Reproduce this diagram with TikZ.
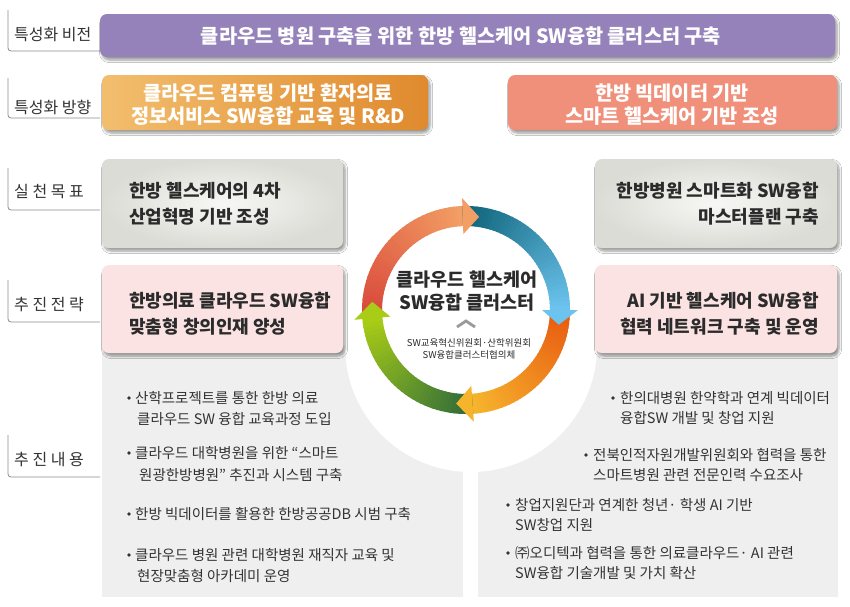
\documentclass[tikz,border=0pt]{standalone}
\usepackage{fontspec}
\setmainfont{Noto Sans CJK KR}
\usetikzlibrary{calc,shadows.blur}
\definecolor{txtdark}{HTML}{2B2B2B}
\definecolor{lbltxt}{HTML}{333333}
\definecolor{brkgray}{HTML}{8C8C8C}
\definecolor{purpleb}{HTML}{9582BA}
\definecolor{orangeL}{HTML}{F2BE6E}
\definecolor{orangeR}{HTML}{E08A2E}
\definecolor{salmon}{HTML}{F0907A}
\definecolor{pinkb}{HTML}{FBE3E3}
\definecolor{grayin}{HTML}{F7F7F5}
\definecolor{grayout}{HTML}{DCDCD6}
\definecolor{panel}{HTML}{EFEFEF}
\definecolor{aS}{HTML}{D8473A}
\definecolor{aE}{HTML}{F39E64}
\definecolor{bS}{HTML}{0E6378}
\definecolor{bE}{HTML}{6CC3EE}
\definecolor{cS}{HTML}{E85A10}
\definecolor{cE}{HTML}{F6B42C}
\definecolor{dS}{HTML}{2F6B3A}
\definecolor{dE}{HTML}{A9CD16}
\definecolor{chev}{HTML}{9A9A9A}
\pgfdeclareradialshading{innershadow}{\pgfpoint{0bp}{0bp}}{color(0bp)=(white); color(37bp)=(white); color(45bp)=(black!14); color(50bp)=(black!42)}
\newcommand\ringseg[4]{%
  \foreach \k in {0,...,35}{%
    \pgfmathsetmacro\aa{#1+(#2-#1)*\k/36}%
    \pgfmathsetmacro\bb{#1+(#2-#1)*(\k+1.4)/36}%
    \pgfmathtruncatemacro\pc{100*\k/35}%
    \fill[#4!\pc!#3] ($(rc)+(\aa:104)$) arc[start angle=\aa,end angle=\bb,radius=104] -- ($(rc)+(\bb:84)$) arc[start angle=\bb,end angle=\aa,radius=84] -- cycle;
  }}
\newcommand\ringhead[3]{%
  \fill[#3] ($(rc)+(#1:76)$) -- ($(rc)+(#1:112)$) -- ($(rc)+(#2:94)$) -- cycle;}
\begin{document}
\begin{tikzpicture}[x=1pt,y=-1pt,
  lbl/.style={anchor=west, inner sep=0pt, font=\fontsize{16}{19}\selectfont, text=lbltxt},
  brk/.style={draw=brkgray, line width=0.8pt, rounded corners=3pt},
  boxbase/.style={rounded corners=7pt, inner sep=0pt, blur shadow={shadow xshift=2pt, shadow yshift=-3pt, shadow blur steps=6, shadow blur radius=2.5pt}},
  headtxt/.style={font=\bfseries\fontsize{19.7}{23}\selectfont, text=white, align=center},
  goaltxt/.style={font=\bfseries\fontsize{18}{26}\selectfont, text=txtdark},
  bul/.style={anchor=west, inner sep=0pt, font=\fontsize{14.5}{20}\selectfont, text=lbltxt},
  dot/.style={fill=lbltxt}
]
\useasboundingbox[fill=white] (0,0) rectangle (850,606);

% left brackets and labels
\draw[brk] (8,10) -- (8,51) -- (100,51);
\node[lbl] (l1) at (14,35) {특성화 비전};
\draw[brk] (8,78) -- (8,118) -- (100,118);
\node[lbl] (l2) at (14,107) {특성화 방향};
\draw[brk] (8,168) -- (8,210) -- (100,210);
\node[lbl] (l3) at (14,192) {실 천 목 표};
\draw[brk] (8,280) -- (8,322) -- (100,322);
\node[lbl] (l4) at (14,305) {추 진 전 략};
\draw[brk] (8,435) -- (8,477) -- (100,477);
\node[lbl] (l5) at (14,460) {추 진 내 용};

% content panels and white halo
\fill[panel] (102,345) rectangle (463,597);
\fill[panel] (478,345) rectangle (838,597);
\fill[white] (471,346) circle (126);

% boxes
\node[boxbase, fill=purpleb, minimum width=735pt, minimum height=43pt] (vision) at (467.5,35.5) {};
\node[headtxt] (visiont) at (461,36.5) {클라우드 병원 구축을 위한 한방 헬스케어 SW융합 클러스터 구축};

\node[boxbase, left color=orangeL, right color=orangeR, minimum width=326pt, minimum height=55pt] (dir1) at (265,102.5) {};
\node[headtxt] (dir1t) at (268,104.5) {클라우드 컴퓨팅 기반 환자의료\\정보서비스 SW융합 교육 및 R\&D};
\node[boxbase, fill=salmon, minimum width=329pt, minimum height=55pt] (dir2) at (672.5,102.5) {};
\node[headtxt] (dir2t) at (672,105) {한방 빅데이터 기반\\스마트 헬스케어 기반 조성};

\node[boxbase, inner color=grayin, outer color=grayout, minimum width=241pt, minimum height=89pt] (g1) at (222.5,203.5) {};
\node[goaltxt, anchor=west, align=left, inner sep=0pt] (g1t) at (129,204) {한방 헬스케어의 4차\\산업혁명 기반 조성};
\node[boxbase, inner color=grayin, outer color=grayout, minimum width=242pt, minimum height=89pt] (g2) at (716,203.5) {};
\node[goaltxt, anchor=east, align=right, inner sep=0pt] (g2t) at (819,204) {한방병원 스마트화 SW융합\\마스터플랜 구축};

\node[boxbase, fill=pinkb, minimum width=241pt, minimum height=88pt] (s1) at (222.5,309) {};
\node[goaltxt, anchor=west, align=left, inner sep=0pt] (s1t) at (129,313.5) {한방의료 클라우드 SW융합\\맞춤형 창의인재 양성};
\node[boxbase, fill=pinkb, minimum width=242pt, minimum height=88pt] (s2) at (716,309) {};
\node[goaltxt, anchor=east, align=right, inner sep=0pt] (s2t) at (819,313.5) {AI 기반 헬스케어 SW융합\\협력 네트워크 구축 및 운영};

% left bullets
\fill[dot] (129,398) circle (1.9);
\node[bul] (p1a) at (135,398) {산학프로젝트를 통한 한방 의료};
\node[bul] (p1b) at (137,419) {클라우드 SW 융합 교육과정 도입};
\fill[dot] (129,453) circle (1.9);
\node[bul] (p2a) at (135,453) {클라우드 대학병원을 위한 “스마트};
\node[bul] (p2b) at (139,475) {원광한방병원" 추진과 시스템 구축};
\fill[dot] (129,514) circle (1.9);
\node[bul] (p3a) at (135,514) {한방 빅데이터를 활용한 한방공공DB 시범 구축};
\fill[dot] (129,555) circle (1.9);
\node[bul] (p4a) at (135,555) {클라우드 병원 관련 대학병원 재직자 교육 및};
\node[bul] (p4b) at (137,576) {현장맞춤형 아카데미 운영};

% right bullets
\fill[dot] (613,398) circle (1.9);
\node[bul] (q1a) at (620,398) {한의대병원 한약학과 연계 빅데이터};
\node[bul] (q1b) at (620,418) {융합SW 개발 및 창업 지원};
\fill[dot] (586,455) circle (1.9);
\node[bul] (q2a) at (593,455) {전북인적자원개발위원회와 협력을 통한};
\node[bul] (q2b) at (593,475) {스마트병원 관련 전문인력 수요조사};
\fill[dot] (508,505) circle (1.9);
\node[bul] (q3a) at (515,505) {창업지원단과 연계한 청년· 학생 AI 기반};
\node[bul] (q3b) at (515,525) {SW창업 지원};
\fill[dot] (508,553) circle (1.9);
\node[bul] (q4a) at (515,553) {㈜오디텍과 협력을 통한 의료클라우드· AI 관련};
\node[bul] (q4b) at (515,573) {SW융합 기술개발 및 가치 확산};

% central ring
\coordinate (rc) at (466,310);
\shade[shading=innershadow] (rc) circle (84.5);
\ringseg{-185}{-92}{aS}{aE}
\ringseg{-92}{0}{bS}{bE}
\ringseg{0}{86}{cS}{cE}
\ringseg{86}{175}{dS}{dE}
\ringhead{-92}{-82}{aE}
\ringhead{0}{9}{bE}
\ringhead{86}{96}{cE}
\ringhead{175}{185}{dE}

\node[font=\bfseries\fontsize{18.5}{23}\selectfont, text=txtdark, align=center] (ctitle) at (467,291.5) {클라우드 헬스케어\\SW융합 클러스터};
\draw[chev, line width=2.8pt] (457,327) -- (466,321) -- (475,327);
\node[font=\fontsize{9.5}{12}\selectfont, text=txtdark, align=center] (csub) at (469,349) {SW교육혁신위원회·산학위원회\\SW융합클러스터협의체};
\end{tikzpicture}
\end{document}
